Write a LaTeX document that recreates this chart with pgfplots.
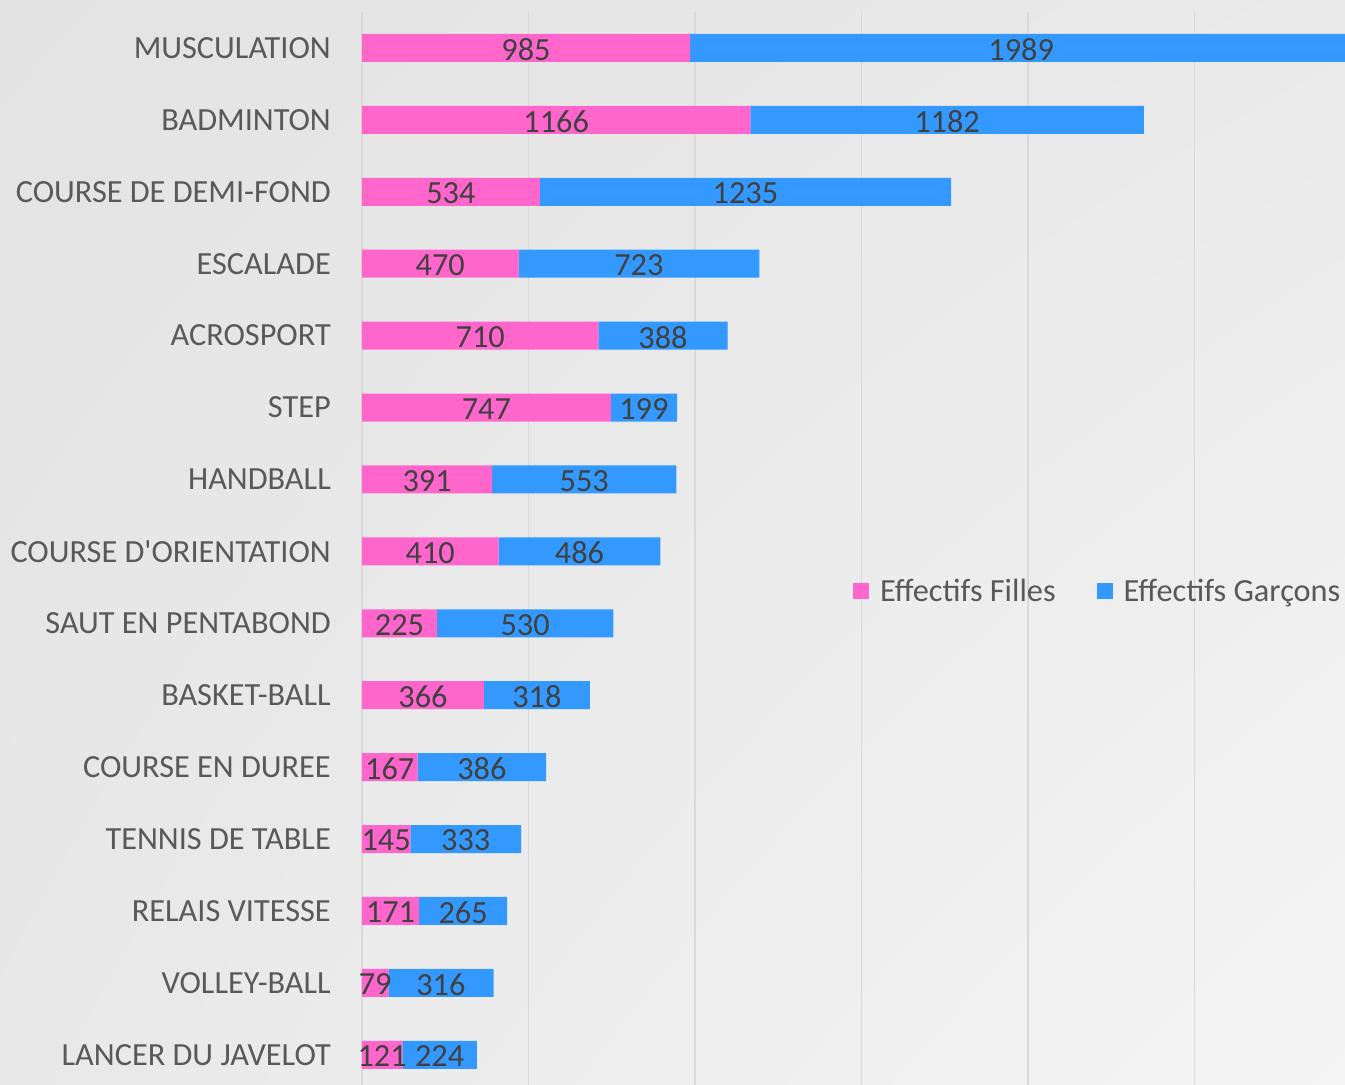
\documentclass[border=0pt]{standalone}
\usepackage{pgfplots}
\pgfplotsset{compat=1.18}
\usepackage{pgfplotstable}
\usepackage{fontspec}
\setmainfont{Carlito}
\usetikzlibrary{backgrounds,shadings}
\definecolor{filles}{HTML}{FF66CC}
\definecolor{garcons}{HTML}{3399FF}
\definecolor{txt}{HTML}{595959}
\definecolor{val}{HTML}{404040}
\definecolor{gridc}{HTML}{D9D9D9}
\definecolor{bgul}{HTML}{E3E3E3}
\definecolor{bgur}{HTML}{EAEAEA}
\definecolor{bgll}{HTML}{E8E8E8}
\definecolor{bglr}{HTML}{F5F5F5}
\newcommand{\chartfont}{\fontsize{32.3}{37}\selectfont}

% idx 0 = bottom (LANCER DU JAVELOT), 14 = top (MUSCULATION)
\pgfplotstableread{
idx f g
0 121 224
1 79 316
2 171 265
3 145 333
4 167 386
5 366 318
6 225 530
7 410 486
8 391 553
9 747 199
10 710 388
11 470 723
12 534 1235
13 1166 1182
14 985 1989
}\data

\begin{document}
\begin{tikzpicture}
% the axis runs to 3000; the page is cut at about 2952 like the reference
\begin{axis}[
    scale only axis,
    width=999pt, height=1073pt,
    xbar stacked, bar width=28pt,
    xmin=0, xmax=3000, ymin=-0.42, ymax=14.5,
    xtick={0,500,1000,1500,2000,2500}, xticklabels={},
    xmajorgrids, major grid style={gridc, line width=1.6pt},
    ytick={0,...,14},
    yticklabels={LANCER DU JAVELOT, VOLLEY-BALL, RELAIS VITESSE, TENNIS DE TABLE,
        COURSE EN DUREE, BASKET-BALL, SAUT EN PENTABOND,
        COURSE D\textquotesingle ORIENTATION, HANDBALL, STEP, ACROSPORT,
        ESCALADE, COURSE DE DEMI-FOND, BADMINTON, MUSCULATION},
    axis line style={draw=none}, tick style={draw=none},
    yticklabel style={font=\chartfont, text=txt, inner sep=0pt, xshift=-31pt},
    point meta=explicit symbolic,
    nodes near coords={\pgfplotspointmeta},
    every node near coord/.append style={font=\chartfont, text=val, anchor=center,
        yshift=-1.5pt},
    legend style={at={(axis cs:1465,6.443)}, anchor=west, draw=none, fill=none,
        font=\chartfont, text=txt, legend columns=2,
        /tikz/every even column/.append style={column sep=39pt}},
    legend cell align=left,
    legend image code/.code={\fill[#1] (0pt,-8pt) rectangle (16pt,8pt); \path (25pt,0pt);},
]
\addplot[fill=filles, draw=none] table[x=f, y=idx, meta=f] {\data};
\addplot[fill=garcons, draw=none] table[x=g, y=idx, meta=g] {\data};
\legend{Effectifs Filles, Effectifs Garçons}
\coordinate (o) at (rel axis cs:0,0);
\coordinate (t) at (rel axis cs:1,1);
\end{axis}
\begin{scope}[on background layer]
\shade[upper left=bgul, upper right=bgur, lower left=bgll, lower right=bglr]
    ([xshift=-362pt]o) rectangle ([yshift=12pt]t);
\end{scope}
\pgfresetboundingbox
\useasboundingbox ([xshift=-362pt]o) rectangle ([xshift=-16pt,yshift=12pt]t);
\end{tikzpicture}
\end{document}
